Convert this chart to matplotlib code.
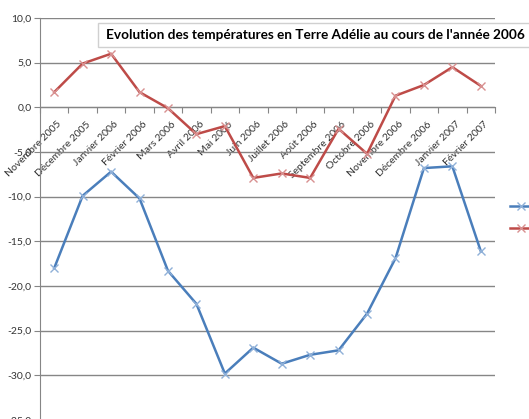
import matplotlib
matplotlib.use("Agg")
import matplotlib.pyplot as plt
from matplotlib.ticker import FixedLocator, FuncFormatter
from matplotlib.transforms import ScaledTranslation
from matplotlib.patches import Rectangle

months = ["Novembre 2005", "Décembre 2005", "Janvier 2006", "Février 2006", "Mars 2006",
          "Avril 2006", "Mai 2006", "Juin 2006", "Juillet 2006", "Août 2006",
          "Septembre 2006", "Octobre 2006", "Novembre 2006", "Décembre 2006",
          "Janvier 2007", "Février 2007"]
t_min = [-18.0, -9.9, -7.2, -10.2, -18.3, -22.0, -29.8, -26.9, -28.7, -27.7,
         -27.2, -23.1, -16.9, -6.8, -6.6, -16.1]
t_max = [1.7, 4.9, 6.0, 1.7, -0.1, -3.0, -2.1, -7.9, -7.4, -7.9,
         -2.4, -5.2, 1.3, 2.5, 4.5, 2.4]
series_names = ["Minimale", "Maximale"]
title = "Evolution des températures en Terre Adélie au cours de l'année 2006"

plt.rcParams["font.family"] = ["Lato", "DejaVu Sans"]

W, H = 529, 419
fig = plt.figure(figsize=(W / 100, H / 100), dpi=100)
fig.patch.set_facecolor("white")
x0, x1, ytop, ybot = 40, 495, 18, 420
ax = fig.add_axes([x0 / W, (H - ybot) / H, (x1 - x0) / W, (ybot - ytop) / H])
ax.set_facecolor("white")

xs = list(range(len(months)))
blue, red = "#4a7ebb", "#be4b48"
ax.plot(xs, t_min, color=blue, lw=1.8, marker="x", ms=6, mec="#8fb0d8", mew=1.0,
        label=series_names[0], zorder=3)
ax.plot(xs, t_max, color=red, lw=1.8, marker="x", ms=6, mec="#d89090", mew=1.0,
        label=series_names[1], zorder=3)

ax.set_xlim(-0.5, len(months) - 0.5)
ax.set_ylim(-35, 10)
ax.set_yticks(range(-35, 11, 5))
ax.yaxis.set_major_formatter(FuncFormatter(lambda v, p: f"{v:.1f}".replace(".", ",")))
ax.yaxis.grid(True, color="#868686", lw=1.0)
ax.set_axisbelow(True)
ax.tick_params(axis="y", length=4, color="#868686", labelsize=7.5, labelcolor="#333333", pad=2)

for s in ["top", "right"]:
    ax.spines[s].set_visible(False)
ax.spines["bottom"].set_position(("data", 0))
ax.spines["bottom"].set_color("#868686")
ax.spines["left"].set_color("#868686")

ax.xaxis.set_major_locator(FixedLocator([i - 0.5 for i in range(len(months) + 1)]))
ax.xaxis.set_major_formatter(FuncFormatter(lambda v, p: ""))
ax.xaxis.set_minor_locator(FixedLocator(xs))
ax.set_xticklabels(months, minor=True)
ax.tick_params(axis="x", which="major", length=4, color="#868686", direction="out")
ax.tick_params(axis="x", which="minor", length=0, labelsize=7.5, labelcolor="#333333", pad=9)
shift = ScaledTranslation(3 / 100, 0, fig.dpi_scale_trans)
for lab in ax.get_xticklabels(minor=True):
    lab.set_rotation(45)
    lab.set_ha("right")
    lab.set_va("top")
    lab.set_rotation_mode("anchor")
    lab.set_transform(lab.get_transform() + shift)

fig.patches.append(Rectangle((98 / W, 1 - 47 / H), 440 / W, 24 / H,
                             transform=fig.transFigure, fc="white", ec="#d0d0d0",
                             lw=1, zorder=5))
fig.text(106 / W, 1 - 35 / H, title, fontsize=9.8, fontweight="bold",
         va="center", ha="left", zorder=6)

leg = ax.legend(loc="upper left", bbox_to_anchor=(510 / W, 1 - 202 / H),
                bbox_transform=fig.transFigure, frameon=False, fontsize=7.5,
                handlelength=2.2, borderaxespad=0, borderpad=0, labelspacing=1.3)

fig.savefig("out.png", dpi=100, facecolor="white")
